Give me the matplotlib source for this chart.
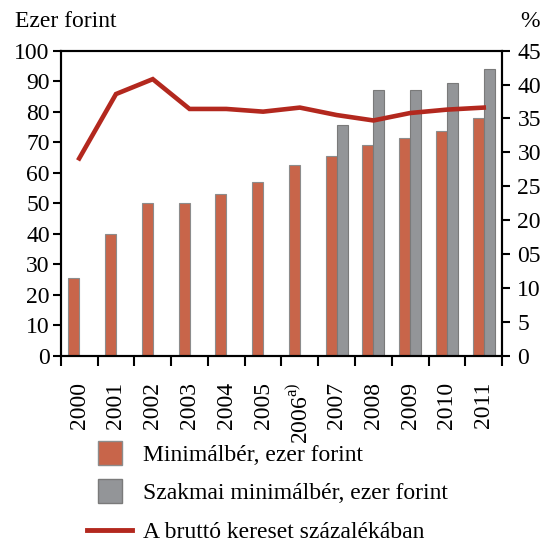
import numpy as np
import matplotlib
matplotlib.use('Agg')
import matplotlib.pyplot as plt
from matplotlib.lines import Line2D

plt.rcParams['font.family'] = ['Liberation Serif', 'DejaVu Serif']
plt.rcParams['mathtext.fontset'] = 'custom'
plt.rcParams['mathtext.rm'] = 'Liberation Serif'

# adatok
years = ['2000', '2001', '2002', '2003', '2004', '2005', '2006$^{\\mathrm{a)}}$',
         '2007', '2008', '2009', '2010', '2011']
minimalber = [25.5, 40.0, 50.0, 50.0, 53.0, 57.0, 62.5, 65.5, 69.0, 71.5, 73.5, 78.0]
szakmai = [np.nan] * 7 + [75.5, 87.0, 87.0, 89.5, 94.0]
brutto_pct = [29.1, 38.6, 40.8, 36.4, 36.4, 36.0, 36.6, 35.5, 34.7, 35.8, 36.3, 36.6]
right_ticks = [0, 5, 10, 15, 20, 25, 30, 35, 40, 45]
right_labels = ['0', '5', '10', '05', '20', '25', '30', '35', '40', '45']

red = '#C8654A'
grey = '#939598'
line_red = '#B3281E'
fs = 17

fig = plt.figure(figsize=(5.53, 5.42), dpi=100)
ax = fig.add_axes([0.110, 0.344, 0.798, 0.5625])
x = np.arange(len(years))
w = 0.3
ax.bar(x - w / 2, minimalber, w, color=red, edgecolor='#8c8c8c', linewidth=0.8)
ax.bar(x + w / 2, szakmai, w, color=grey, edgecolor='#7a7a7a', linewidth=0.8)
ax.set_xlim(-0.5, len(years) - 0.5)
ax.set_ylim(0, 100)
ax.set_yticks(range(0, 101, 10))
ax.tick_params(axis='y', labelsize=fs, length=6, width=1.5, pad=2)

# év címkék középen, osztásvonalak a határokon
ax.set_xticks(x)
ax.set_xticklabels(years, rotation=90, fontsize=fs)
ax.tick_params(axis='x', which='major', length=0, pad=19)
ax.set_xticks(np.arange(-0.5, len(years)), minor=True)
ax.tick_params(axis='x', which='minor', length=7, width=1.5)

for s in ax.spines.values():
    s.set_linewidth(1.5)

ax2 = ax.twinx()
ax2.plot(x, brutto_pct, color=line_red, lw=3.3, solid_joinstyle='miter')
ax2.set_ylim(0, 45)
ax2.set_yticks(right_ticks)
ax2.set_yticklabels(right_labels)
ax2.tick_params(axis='y', labelsize=fs, length=6, width=1.5, pad=5)
for s in ax2.spines.values():
    s.set_linewidth(1.5)

fig.text(0.027, 0.95, 'Ezer forint', fontsize=fs, va='baseline')
fig.text(0.94, 0.95, '%', fontsize=fs, va='baseline')

handles = [
    Line2D([], [], marker='s', markersize=17, markerfacecolor=red,
           markeredgecolor='#8c8c8c', linestyle='none'),
    Line2D([], [], marker='s', markersize=17, markerfacecolor=grey,
           markeredgecolor='#7a7a7a', linestyle='none'),
    Line2D([], [], color=line_red, lw=3.5),
]
labels = ['Minimálbér, ezer forint', 'Szakmai minimálbér, ezer forint',
          'A bruttó kereset százalékában']
fig.legend(handles, labels, loc='upper left', bbox_to_anchor=(0.158, 0.18),
           frameon=False, fontsize=fs, handlelength=1.9, handletextpad=0.45,
           labelspacing=0.72, borderaxespad=0, borderpad=0)

plt.savefig('out.png', dpi=100)
